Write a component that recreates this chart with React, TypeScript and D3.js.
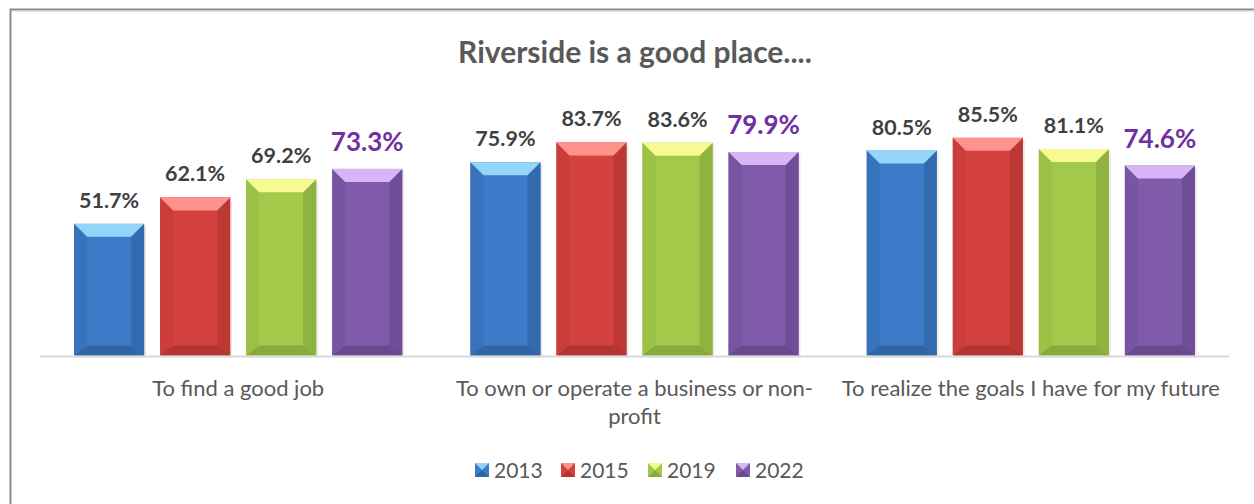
import React from "react";
import * as d3 from "d3";

const categories = [
  ["To find a good job"],
  ["To own or operate a business or non-", "profit"],
  ["To realize the goals I have for my future"],
];
const categoryKeys = ["job", "business", "goals"];
const years = ["2013", "2015", "2019", "2022"];
const values2013 = [51.7, 75.9, 80.5];
const values2015 = [62.1, 83.7, 85.5];
const values2019 = [69.2, 83.6, 81.1];
const values2022 = [73.3, 79.9, 74.6];
const seriesValues = [values2013, values2015, values2019, values2022];

const palette = [
  { front: "#3D7BC8", top: "#93D6F9", left: "#3873BD", right: "#336BB0", bottom: "#3166A6" },
  { front: "#D4423F", top: "#FF928D", left: "#CA3D3A", right: "#BD3835", bottom: "#B23532" },
  { front: "#A3C94B", top: "#F6FA92", left: "#9AC046", right: "#8FB341", bottom: "#87A93D" },
  { front: "#7F5BAA", top: "#D7B5F6", left: "#7855A1", right: "#6F4E97", bottom: "#6A4A8E" },
];

const FONT = "Lato, 'Open Sans', sans-serif";

export default function App() {
  const W = 1254, H = 504;
  const x0 = d3.scaleBand<string>().domain(categoryKeys).range([40, 1229]).paddingInner(0.172).paddingOuter(0.086);
  const x1 = d3.scaleBand<string>().domain(years).range([0, x0.bandwidth()]).paddingInner(0.186).paddingOuter(0);
  const y = d3.scaleLinear().domain([0, 100]).range([355.5, 100.9]);
  const d = 13, ht = 13, hb = 10;

  const bars: React.ReactNode[] = [];
  const labels: React.ReactNode[] = [];
  categoryKeys.forEach((ck, ci) => {
    years.forEach((yr, si) => {
      const v = seriesValues[si][ci];
      const xa = (x0(ck) ?? 0) + (x1(yr) ?? 0);
      const xb = xa + x1.bandwidth();
      const yt = y(v), yb = y(0);
      const c = palette[si];
      const p = (pts: number[][]) => pts.map((q) => q.join(",")).join(" ");
      bars.push(
        <g key={`${ck}-${yr}`}>
          <rect x={xa + 2} y={yt + 2} width={xb - xa} height={yb - yt} fill="#000" opacity={0.08} />
          <rect x={xa} y={yt} width={xb - xa} height={yb - yt} fill={c.front} />
          <polygon points={p([[xa, yt], [xa + d, yt + ht], [xa + d, yb - hb], [xa, yb]])} fill={c.left} />
          <polygon points={p([[xb, yt], [xb, yb], [xb - d, yb - hb], [xb - d, yt + ht]])} fill={c.right} />
          <polygon points={p([[xa, yb], [xa + d, yb - hb], [xb - d, yb - hb], [xb, yb]])} fill={c.bottom} />
          <polygon points={p([[xa, yt], [xb, yt], [xb - d, yt + ht], [xa + d, yt + ht]])} fill={c.top} />
        </g>
      );
      const isLast = si === 3;
      labels.push(
        <text
          key={`l-${ck}-${yr}`}
          x={(xa + xb) / 2}
          y={yt - (isLast ? 18 : 16)}
          textAnchor="middle"
          fontFamily={FONT}
          fontWeight="bold"
          fontSize={isLast ? 26 : 21.5}
          fill={isLast ? "#7030A0" : "#404040"}
        >
          {v.toFixed(1)}%
        </text>
      );
    });
  });

  const legendX = [475, 561, 648, 736];

  return (
    <svg width={W} height={H} style={{ position: "absolute", left: 0, top: 0, background: "#fff" }}>
      <rect x={0} y={0} width={W} height={H} fill="#fff" />
      <rect x={10.5} y={9.5} width={1400} height={700} fill="none" stroke="#8a8a8a" strokeWidth={2} />
      <line x1={12} y1={11} x2={W} y2={11} stroke="#cfcfcf" strokeWidth={1} />
      <text x={635} y={63} textAnchor="middle" fontFamily={FONT} fontWeight="bold" fontSize={30} fill="#595959">
        Riverside is a good place....
      </text>
      {bars}
      <line x1={40} x2={1229} y1={y(0) + 1} y2={y(0) + 1} stroke="#d9d9d9" strokeWidth={2} />
      {labels}
      {categoryKeys.map((ck, ci) => (
        <text key={ck} x={(x0(ck) ?? 0) + x0.bandwidth() / 2} y={396} textAnchor="middle" fontFamily={FONT} fontSize={22} fill="#595959">
          {categories[ci].map((line, li) => (
            <tspan key={li} x={(x0(ck) ?? 0) + x0.bandwidth() / 2} dy={li === 0 ? 0 : 28}>
              {line}
            </tspan>
          ))}
        </text>
      ))}
      {years.map((yr, si) => {
        const c = palette[si];
        const lx = legendX[si], ly = 463, s = 14;
        return (
          <g key={yr}>
            <rect x={lx} y={ly} width={s} height={s} fill={c.front} />
            <polygon points={`${lx},${ly} ${lx + s},${ly} ${lx + s / 2},${ly + s / 2}`} fill={c.top} />
            <polygon points={`${lx},${ly + s} ${lx + s},${ly + s} ${lx + s / 2},${ly + s / 2}`} fill={c.bottom} />
            <text x={lx + 19} y={ly + s + 1} fontFamily={FONT} fontSize={21} fill="#595959">
              {yr}
            </text>
          </g>
        );
      })}
    </svg>
  );
}
